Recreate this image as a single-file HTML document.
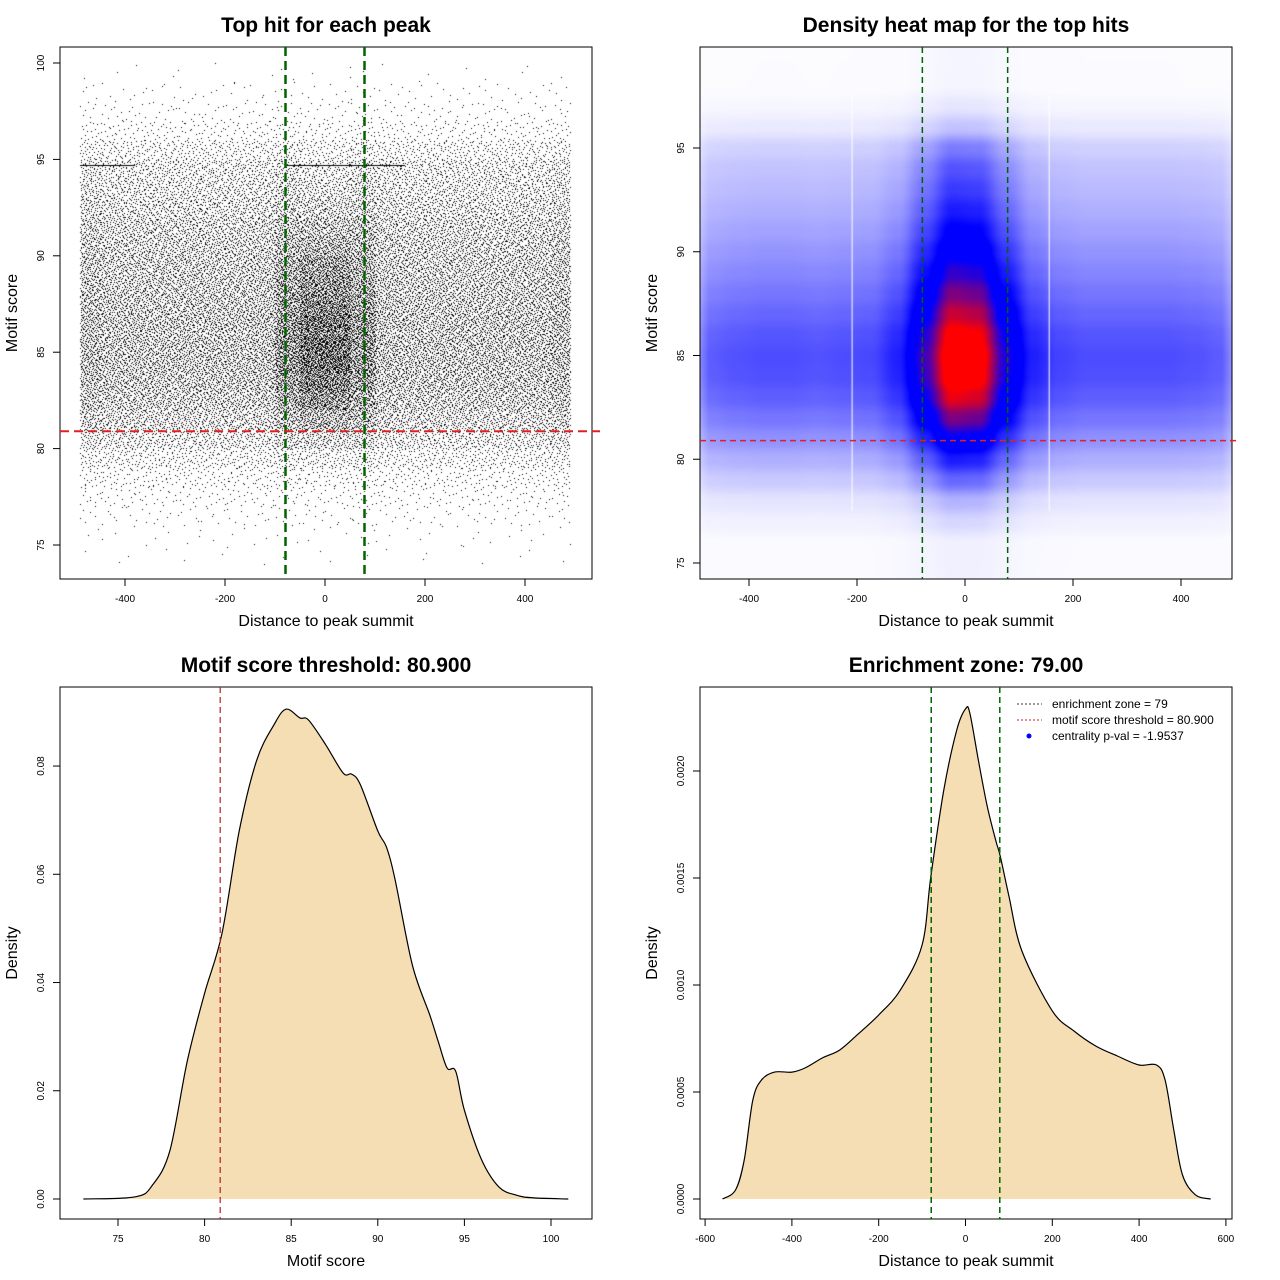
<!DOCTYPE html>
<html><head><meta charset="utf-8">
<style>
html,body{margin:0;padding:0;background:#fff;}
#wrap{position:relative;width:1280px;height:1280px;}
canvas,svg{position:absolute;left:0;top:0;}
text{font-family:"Liberation Sans",sans-serif;fill:#000;}
</style></head>
<body>
<div id="wrap">
<canvas id="cv" width="1280" height="1280"></canvas>
<svg id="sv" width="1280" height="1280" xmlns="http://www.w3.org/2000/svg"></svg>
</div>
<script>
// ---------- DATA ----------
// Panel 1 scatter: counts of points per (score bin, distance bin)
const scatterScoreBins = [74,75,76,77,78,79,80,81,82,83,84,85,86,87,88,89,90,91,92,93,94,95,96,97,98,99];
const scatterScoreCounts = [0.6,2,6,12,22,40,65,90,105,115,120,120,118,112,108,104,98,90,78,68,62,40,18,8,4,1.2];
const scatterCentralBoost = [1,1,1,1,1.1,1.2,1.4,1.7,2.1,2.4,2.6,2.6,2.5,2.3,2.1,1.9,1.6,1.4,1.2,1.1,1,1,1,1,1,1];
const scatterDistBins = [-490,-450,-400,-350,-300,-250,-200,-150,-100,-50,0,50,100,150,200,250,300,350,400,450];
const scatterDistWeights = [0.9,1,1,1,1,1,1,1.05,1.25,1.0,1.0,1.25,1.05,1,1,1,1,1,1,0.9];
const scatterCentralDist = [0,0,0,0,0,0,0,0,0.3,1,1,0.3,0,0,0,0,0,0,0,0];
// Panel 2 heatmap: density profiles
const heatScores = [76,77,78,79,80,81,82,83,84,85,86,87,88,89,90,91,92,93,94,95,96,97,98];
const heatScoreProfile = [0.03,0.08,0.15,0.3,0.45,0.62,0.77,0.9,0.98,1,0.95,0.86,0.77,0.68,0.6,0.52,0.45,0.39,0.34,0.26,0.12,0.05,0.02];
const heatDists = [-475,-425,-375,-325,-275,-225,-175,-125,-75,-25,25,75,125,175,225,275,325,375,425,475];
const heatDistProfile = [0.32,0.34,0.35,0.35,0.34,0.35,0.36,0.44,0.7,1.0,0.97,0.66,0.44,0.37,0.35,0.35,0.35,0.35,0.34,0.32];
// Panel 3 density of motif score
const scoreX = [73,76,77,78,79,80,81,82,83,84,84.7,85.5,86,87,88,88.5,89,90,90.5,91,92,93,93.5,94,94.5,95,96,97,98,99,101];
const scoreDensity = [0,0.0004,0.0026,0.009,0.0255,0.038,0.049,0.068,0.081,0.0876,0.0905,0.0889,0.0885,0.0839,0.0787,0.0785,0.0765,0.068,0.065,0.059,0.0432,0.034,0.029,0.0242,0.0236,0.0164,0.0072,0.0022,0.0007,0.0002,0];
// Panel 4 density of distance
const distX = [-560,-530,-510,-490,-470,-440,-400,-370,-330,-290,-250,-200,-150,-100,-80,-50,-20,0,10,30,50,70,80,100,130,200,250,300,350,400,440,460,480,500,530,565];
const distDensity = [0,0.000042,0.000182,0.000462,0.000556,0.000593,0.000593,0.000612,0.000659,0.000696,0.000766,0.000860,0.000977,0.001187,0.001505,0.001911,0.002192,0.002290,0.002271,0.002047,0.001836,0.001673,0.001603,0.001416,0.001159,0.000879,0.000785,0.000715,0.000668,0.000626,0.000626,0.000556,0.000322,0.000112,0.000019,0];
const threshold = 80.9, zone = 79;

// ---------- AXES ----------
const P1={x0:60,x1:592,y0:47,y1:579,sx:d=>325+0.5*d,sy:s=>545-(s-75)*19.28};
const P2={x0:700,x1:1232,y0:47,y1:579,sx:d=>965+0.54*d,sy:s=>563-(s-75)*20.75};
const P3={x0:60,x1:592,y0:687,y1:1219,sx:s=>118+(s-75)*17.32,sy:v=>1199-v*5412};
const P4={x0:700,x1:1232,y0:687,y1:1219,sx:d=>965.5+d*0.434,sy:v=>1199-v*214000};

const NS="http://www.w3.org/2000/svg", sv=document.getElementById('sv');
function mk(tag,attrs,parent){const e=document.createElementNS(NS,tag);for(const k in attrs)e.setAttribute(k,attrs[k]);(parent||sv).appendChild(e);return e;}
function txt(s,attrs,parent){const e=mk('text',attrs,parent);e.textContent=s;return e;}

function axes(P,name,title,xlab,ylab,xt,xtl,yt,ytl){
  const g=mk('g',{});
  
  
  const box=mk('rect',{x:P.x0,y:P.y0,width:P.x1-P.x0,height:P.y1-P.y0,fill:'none',stroke:'#000','stroke-width':1},g);
  
  
  const xa=mk('g',{},g);
  
  
  mk('line',{x1:P.sx(xt[0]),x2:P.sx(xt[xt.length-1]),y1:P.y1,y2:P.y1,stroke:'#000'},xa);
  xt.forEach((v,i)=>{const x=P.sx(v);mk('line',{x1:x,x2:x,y1:P.y1,y2:P.y1+7,stroke:'#000'},xa);
    const t=txt(xtl[i],{x:x,y:P.y1+23,'font-size':10,'text-anchor':'middle'},xa);
    });
  const ya=mk('g',{},g);
  
  
  mk('line',{x1:P.x0,x2:P.x0,y1:P.sy(yt[0]),y2:P.sy(yt[yt.length-1]),stroke:'#000'},ya);
  yt.forEach((v,i)=>{const y=P.sy(v);mk('line',{x1:P.x0,x2:P.x0-7,y1:y,y2:y,stroke:'#000'},ya);
    const t=txt(ytl[i],{x:P.x0-16,y:y,'font-size':10,'text-anchor':'middle',transform:`rotate(-90 ${P.x0-16} ${y})`},ya);
    });
  const cx=(P.x0+P.x1)/2, cy=(P.y0+P.y1)/2;
  const tt=txt(title,{x:cx,y:P.y0-15,'font-size':21,'font-weight':'bold','text-anchor':'middle'},g);
  
  const xl=txt(xlab,{x:cx,y:P.y1+47,'font-size':16,'text-anchor':'middle'},g);
  
  const yl=txt(ylab,{x:P.x0-43,y:cy,'font-size':16,'text-anchor':'middle',transform:`rotate(-90 ${P.x0-43} ${cy})`},g);
  
}
axes(P1,'scatter-panel','Top hit for each peak','Distance to peak summit','Motif score',[-400,-200,0,200,400],['-400','-200','0','200','400'],[75,80,85,90,95,100],['75','80','85','90','95','100']);
axes(P2,'heatmap-panel','Density heat map for the top hits','Distance to peak summit','Motif score',[-400,-200,0,200,400],['-400','-200','0','200','400'],[75,80,85,90,95],['75','80','85','90','95']);
axes(P3,'score-density-panel','Motif score threshold: 80.900','Motif score','Density',[75,80,85,90,95,100],['75','80','85','90','95','100'],[0,0.02,0.04,0.06,0.08],['0.00','0.02','0.04','0.06','0.08']);
axes(P4,'distance-density-panel','Enrichment zone: 79.00','Distance to peak summit','Density',[-600,-400,-200,0,200,400,600],['-600','-400','-200','0','200','400','600'],[0,0.0005,0.001,0.0015,0.002],['0.0000','0.0005','0.0010','0.0015','0.0020']);

// ---------- CANVAS MARKS ----------
const ctx=document.getElementById('cv').getContext('2d');
function halton(i,b){let f=1,r=0;while(i>0){f/=b;r+=f*(i%b);i=Math.floor(i/b);}return r;}
// scatter
ctx.save();ctx.beginPath();ctx.rect(P1.x0,P1.y0,P1.x1-P1.x0,P1.y1-P1.y0);ctx.clip();
ctx.fillStyle='#000';
let idx=1;
scatterScoreBins.forEach((s,i)=>{
  scatterDistBins.forEach((d,j)=>{
    const dEnd = j<scatterDistBins.length-1?scatterDistBins[j+1]:490;
    const base=scatterScoreCounts[i]*scatterDistWeights[j];
    const boost=1+(scatterCentralBoost[i]-1)*scatterCentralDist[j];
    const n=Math.round(base*boost);
    for(let k=0;k<n;k++){idx++;
      let u=halton(idx,2), w=halton(idx,3);
      const dd=d+(dEnd-d)*u, ss=s+w;
      ctx.fillRect(Math.round(P1.sx(dd)),Math.round(P1.sy(ss)),1,1);}
  });
});
ctx.fillRect(Math.round(P1.sx(-490)),Math.round(P1.sy(94.7)),Math.round(P1.sx(-380)-P1.sx(-490)),1);
ctx.fillRect(Math.round(P1.sx(-80)),Math.round(P1.sy(94.7)),Math.round(P1.sx(160)-P1.sx(-80)),1);
ctx.restore();

// heatmap
(function(){
  const W=P2.x1-P2.x0, H=P2.y1-P2.y0;
  const img=ctx.createImageData(W,H);
  function lerpArr(xs,ys,x){if(x<=xs[0])return ys[0]*Math.max(0,1-(xs[0]-x)/60);if(x>=xs[xs.length-1])return ys[ys.length-1]*Math.max(0,1-(x-xs[xs.length-1])/60);
    for(let i=0;i<xs.length-1;i++)if(x<=xs[i+1]){let t=(x-xs[i])/(xs[i+1]-xs[i]);t=t*t*(3-2*t);return ys[i]*(1-t)+ys[i+1]*t;}return 0;}
  for(let py=0;py<H;py++){
    const s=75+(563-(P2.y0+py))/20.75;
    const rv=lerpArr(heatScores,heatScoreProfile,s);
    for(let px=0;px<W;px++){
      const d=(P2.x0+px-965)/0.54;
      let v=rv*lerpArr(heatDists,heatDistProfile,d);
      let r,g,b;
      if(v<=0.5){const t=Math.min(1,v/0.5);r=255*(1-t);g=255*(1-t);b=255;}
      else if(v<=0.62){r=0;g=0;b=255;}
      else{const t=Math.min(1,(v-0.62)/0.3);r=255*t;g=0;b=255*(1-t);}
      const o=(py*W+px)*4;img.data[o]=r;img.data[o+1]=g;img.data[o+2]=b;img.data[o+3]=255;}
  }
  ctx.putImageData(img,P2.x0,P2.y0);
  ctx.fillStyle='#fff';
  ctx.fillRect(P2.sx(-210),P2.sy(97.5),1,P2.sy(77.5)-P2.sy(97.5));
  ctx.fillRect(P2.sx(155),P2.sy(97.5),1,P2.sy(77.5)-P2.sy(97.5));
})();

// ---------- SVG MARKS ----------
function dashed(x1,y1,x2,y2,col,w,dash,name){const l=mk('line',{x1,y1,x2,y2,stroke:col,'stroke-width':w,'stroke-dasharray':dash});
  }
dashed(P1.sx(-zone),P1.y0,P1.sx(-zone),P1.y1,'#006400',2.5,'9,5','enrichment-line-left');
dashed(P1.sx(zone),P1.y0,P1.sx(zone),P1.y1,'#006400',2.5,'9,5','enrichment-line-right');
dashed(P1.x0,P1.sy(threshold),P1.x1+8,P1.sy(threshold),'#e02020',2,'9,5','threshold-line');
dashed(P2.sx(-zone),P2.y0,P2.sx(-zone),P2.y1,'#006400',1.5,'6,4','enrichment-line-left');
dashed(P2.sx(zone),P2.y0,P2.sx(zone),P2.y1,'#006400',1.5,'6,4','enrichment-line-right');
dashed(P2.x0,P2.sy(threshold),P2.x1+8,P2.sy(threshold),'#e02020',1.5,'6,4','threshold-line');

function smoothPath(pts){
  let d=`M${pts[0][0].toFixed(1)},${pts[0][1].toFixed(1)}`;
  for(let i=0;i<pts.length-1;i++){
    const p0=pts[Math.max(0,i-1)],p1=pts[i],p2=pts[i+1],p3=pts[Math.min(pts.length-1,i+2)];
    const c1=[p1[0]+(p2[0]-p0[0])/6,p1[1]+(p2[1]-p0[1])/6],c2=[p2[0]-(p3[0]-p1[0])/6,p2[1]-(p3[1]-p1[1])/6];
    d+=` C${c1[0].toFixed(1)},${c1[1].toFixed(1)} ${c2[0].toFixed(1)},${c2[1].toFixed(1)} ${p2[0].toFixed(1)},${p2[1].toFixed(1)}`;
  }
  return d;
}
function area(P,xs,ys,name){
  const pts=xs.map((x,i)=>[P.sx(x),P.sy(ys[i])]);
  const sp=smoothPath(pts);
  const f=mk('path',{d:sp+` L${pts[pts.length-1][0]},${P.sy(0)} L${pts[0][0]},${P.sy(0)} Z`,fill:'#F5DEB3',stroke:'none'});
  
  const l=mk('path',{d:sp,fill:'none',stroke:'#000','stroke-width':1.2,'stroke-linejoin':'round'});
  
}
area(P3,scoreX,scoreDensity,'score-density');
dashed(P3.sx(threshold),P3.y0,P3.sx(threshold),P3.y1,'#b22222',1.2,'6,4','threshold-line');
area(P4,distX,distDensity,'distance-density');
dashed(P4.sx(-zone),P4.y0,P4.sx(-zone),P4.y1,'#006400',1.5,'6,4','enrichment-line-left');
dashed(P4.sx(zone),P4.y0,P4.sx(zone),P4.y1,'#006400',1.5,'6,4','enrichment-line-right');

// legend
const lg=mk('g',{});


[['enrichment zone = 79','#333','dot'],['motif score threshold = 80.900','#e02020','dot'],['centrality p-val = -1.9537','#0000ff','pt']].forEach((e,i)=>{
  const y=704+i*16;
  const row=mk('g',{},lg);
  
  
  if(e[2]==='dot')mk('line',{x1:1017,x2:1042,y1:y,y2:y,stroke:e[1],'stroke-width':1,'stroke-dasharray':'2,2'},row);
  else mk('circle',{cx:1029,cy:y,r:2.5,fill:e[1]},row);
  txt(e[0],{x:1052,y:y+4,'font-size':12},row);
});
</script>
</body></html>
